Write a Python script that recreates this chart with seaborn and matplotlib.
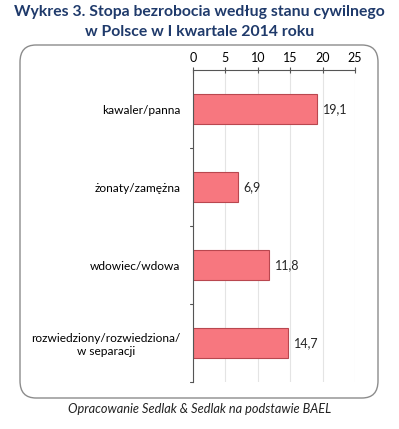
import matplotlib
matplotlib.use("Agg")
import matplotlib.pyplot as plt
import seaborn as sns
import pandas as pd
from matplotlib.patches import FancyBboxPatch

# data
categories = ["kawaler/panna", "żonaty/zamężna", "wdowiec/wdowa",
              "rozwiedziony/rozwiedziona/\nw separacji"]
values = [19.1, 6.9, 11.8, 14.7]
ticks = [0, 5, 10, 15, 20, 25]

sns.set_theme(style="white")
plt.rcParams['font.family'] = ['Lato', 'DejaVu Sans']

df = pd.DataFrame({"stan": categories, "stopa": values})

fig = plt.figure(figsize=(3.99, 4.29), dpi=100)

# rounded frame around the chart
frame = FancyBboxPatch((20 / 399, 1 - 398 / 429), 358 / 399, 353 / 429,
                       boxstyle="round,pad=0,rounding_size=0.04",
                       transform=fig.transFigure, facecolor="white",
                       edgecolor="#8c8c8c", linewidth=1.0, zorder=-5)
fig.patches.append(frame)

ax = fig.add_axes([193 / 399, 1 - 382 / 429, 162 / 399, 312 / 429])
ax.set_zorder(5)
ax.set_facecolor("none")

sns.barplot(data=df, y="stan", x="stopa", orient="h", ax=ax,
            color="#f7777f", edgecolor="#b9474f", linewidth=0.8,
            width=0.38, saturation=1)

ax.set_xlim(0, 25)
ax.set_ylim(3.5, -0.5)
ax.set_xticks(ticks)
ax.xaxis.tick_top()
ax.tick_params(axis="x", top=True, bottom=False, length=4, width=0.8,
               colors="#555555", labelcolor="black", labelsize=9, pad=2,
               direction="inout")
ax.tick_params(axis="y", left=False, labelsize=8.6, labelcolor="black", pad=3)
ax.set_yticks(range(len(categories)))
ax.set_yticklabels(categories, ha="right", multialignment="center")
ax.set_xlabel("")
ax.set_ylabel("")
ax.grid(axis="x", color="#e4e4e4", linewidth=0.8)
ax.set_axisbelow(True)
for s in ["right", "bottom"]:
    ax.spines[s].set_visible(False)
ax.spines["top"].set_color("#555555")
ax.spines["left"].set_color("#555555")
ax.spines["top"].set_linewidth(0.8)
ax.spines["left"].set_linewidth(0.8)

# small separator ticks on the y axis between categories
for yb in [0.5, 1.5, 2.5, 3.5]:
    ax.plot([-0.5, 0], [yb, yb], color="#555555", lw=0.8, clip_on=False)

for i, v in enumerate(values):
    ax.text(v + 0.9, i, f"{v:.1f}".replace(".", ","), va="center",
            ha="left", fontsize=9)

fig.text(0.5, 1 - 12 / 429, "Wykres 3. Stopa bezrobocia według stanu cywilnego",
         ha="center", va="center", fontsize=11.3, fontweight="bold",
         color="#1f3a6b")
fig.text(0.5, 1 - 32 / 429, "w Polsce w I kwartale 2014 roku",
         ha="center", va="center", fontsize=11.3, fontweight="bold",
         color="#1f3a6b")
fig.text(0.5, 1 - 409 / 429, "Opracowanie Sedlak & Sedlak na podstawie BAEL",
         ha="center", va="center", fontsize=9.2, style="italic", color="#222222")

fig.savefig("out.png", dpi=100)
